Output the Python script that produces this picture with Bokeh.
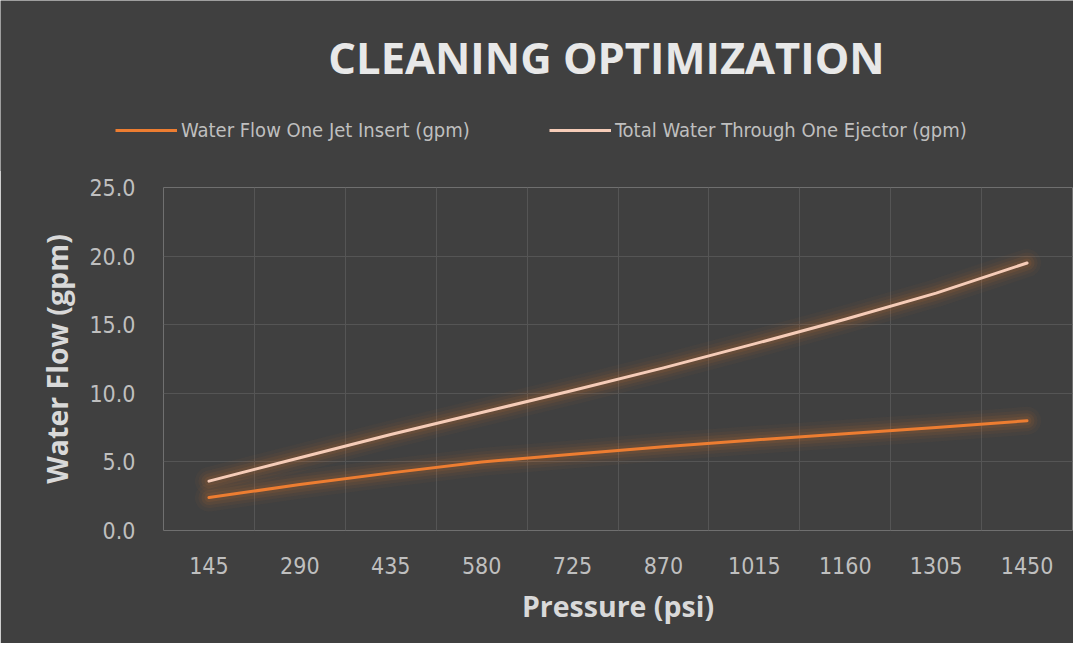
from bokeh.plotting import figure
from bokeh.models import Range1d, FixedTicker, Legend, LegendItem, Label
from bokeh.embed import file_html
from bokeh.resources import INLINE

# ---- data ----
pressure = [145, 290, 435, 580, 725, 870, 1015, 1160, 1305, 1450]
jet_insert = [2.4, 3.35, 4.2, 5.0, 5.55, 6.1, 6.6, 7.05, 7.5, 8.0]
ejector_total = [3.6, 5.3, 7.0, 8.6, 10.2, 11.85, 13.6, 15.4, 17.3, 19.5]
y_ticks = [0, 5, 10, 15, 20, 25]
series_names = ["Water Flow One Jet Insert (gpm)", "Total Water Through One Ejector (gpm)"]
title_text = "CLEANING OPTIMIZATION"
x_title = "Pressure (psi)"
y_title = "Water Flow (gpm)"

# ---- style ----
BG = "#404040"
GLOW = "#ED7D31"
colors = ["#ED7D31", "#F6CCB8"]
TICK_FONT = "DejaVu Sans Condensed"
W, H = 1073, 643
HEAD = 171                                # header (title + legend) height (1px overlap)
FL, FR, FT, FB = 163, 1072, 187, 530      # plot frame edges in page px

# ---- header figure: title and legend (pixel coordinates) ----
head = figure(width=W, height=HEAD, output_backend="svg", toolbar_location=None,
              x_range=Range1d(0, W), y_range=Range1d(HEAD, 0),
              x_axis_type=None, y_axis_type=None, min_border=0,
              background_fill_color=BG, border_fill_color=BG, outline_line_color=None)
head.grid.visible = False
head.add_layout(Label(x=606, y=57, text=title_text, text_align="center",
                      text_baseline="middle", text_font="Open Sans",
                      text_font_style="bold", text_font_size="43.5px",
                      text_color="#e8e8e8"))
for name, col, lx in zip(series_names, colors, [115, 549]):
    key = head.line(x=[-100, -90], y=[-100, -100], line_color=col, line_width=3)
    head.add_layout(Legend(items=[LegendItem(label=name, renderers=[key])],
                           location=(lx, HEAD - 142), orientation="horizontal",
                           glyph_width=62, glyph_height=24, label_height=24,
                           label_standoff=4, padding=0, margin=0, spacing=0,
                           background_fill_alpha=0, border_line_color=None,
                           label_text_font=TICK_FONT, label_text_font_size="20px",
                           label_text_color="#bfbfbf"))

# ---- main plot ----
step = pressure[1] - pressure[0]
x0, x1 = pressure[0] - step / 2, pressure[-1] + step / 2
y0, y1 = y_ticks[0], y_ticks[-1]
TOP = HEAD - 1                            # main plot starts here (overlaps header by 1px)
PH = H - TOP
p = figure(width=W, height=PH, output_backend="svg", toolbar_location=None,
           x_range=Range1d(x0, x1), y_range=Range1d(y0, y1),
           min_border_left=FL, min_border_right=W - FR,
           min_border_top=FT - TOP, min_border_bottom=PH - (FB - TOP),
           background_fill_color=BG, border_fill_color=BG,
           outline_line_color=None)
p.styles = {"margin-top": "-1px"}

p.xgrid.ticker = FixedTicker(ticks=[x0 + i * step for i in range(len(pressure) + 1)])
p.ygrid.ticker = FixedTicker(ticks=y_ticks)
for g in (p.xgrid, p.ygrid):
    g.grid_line_color = "#555555"
    g.grid_line_width = 1

p.xaxis.ticker = FixedTicker(ticks=pressure)
p.yaxis.ticker = FixedTicker(ticks=y_ticks)
p.yaxis.major_label_overrides = {v: f"{v:.1f}" for v in y_ticks}
for ax in (p.xaxis, p.yaxis):
    ax.axis_line_color = None
    ax.major_tick_line_color = None
    ax.minor_tick_line_color = None
    ax.major_label_text_font = TICK_FONT
    ax.major_label_text_font_size = "23px"
    ax.major_label_text_color = "#bfbfbf"
    ax.axis_label_text_font = "Open Sans"
    ax.axis_label_text_font_style = "bold"
    ax.axis_label_text_font_size = "28.5px"
    ax.axis_label_text_color = "#d9d9d9"
p.xaxis.major_label_standoff = 20
p.yaxis.major_label_standoff = 22
p.xaxis.axis_label = x_title
p.yaxis.axis_label = y_title
p.xaxis.axis_label_standoff = 10
p.yaxis.axis_label_standoff = 10

for ys, col in zip([jet_insert, ejector_total], colors):
    for w, a in [(28, 0.04), (21, 0.05), (15, 0.07), (9, 0.09)]:
        p.line(pressure, ys, line_color=GLOW, line_width=w, line_alpha=a,
               line_cap="round", line_join="round")
    p.line(pressure, ys, line_color=col, line_width=3,
           line_cap="round", line_join="round")

open("out.html", "w").write(file_html([head, p], INLINE))
